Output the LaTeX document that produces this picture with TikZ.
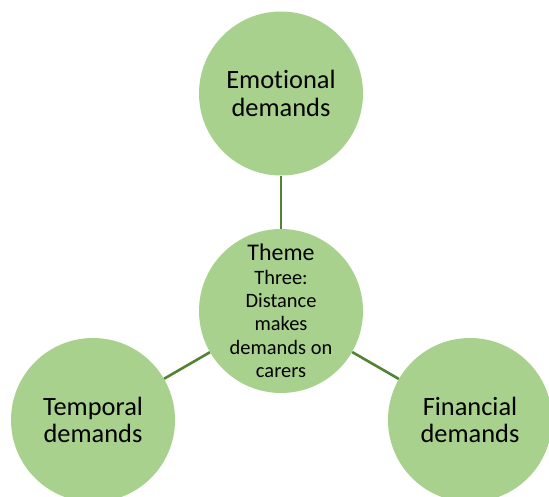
\documentclass[tikz,border=0pt]{standalone}
\usepackage{fontspec}
\setmainfont[Ligatures=NoCommon]{Carlito}
\definecolor{circfill}{HTML}{A9D18E}
\definecolor{linkcol}{HTML}{548235}
\begin{document}
\begin{tikzpicture}[x=1bp,y=-1bp,
  bubble/.style={circle,fill=circfill,draw=none,minimum size=164bp,inner sep=0pt,align=center,text=black,font=\fontsize{26.5}{27.5}\selectfont},
  link/.style={draw=linkcol,line width=2.6bp}]
\useasboundingbox (0,0) rectangle (549,497);
\node[bubble] (emo) at (281,93.5) {Emotional\\demands};
\node[bubble] (theme) at (281,311) {};
\node[align=center,font=\fontsize{20.5}{23.5}\selectfont] (themetext) at (281,311) {{\fontsize{24}{23.5}\selectfont Theme}\\Three:\\Distance\\makes\\demands on\\carers};
\node[bubble] (temp) at (93,420) {Temporal\\demands};
\node[bubble] (fin) at (470,420) {Financial\\demands};
\draw[link] (emo) -- (theme);
\draw[link] (theme) -- (temp);
\draw[link] (theme) -- (fin);
\end{tikzpicture}
\end{document}
